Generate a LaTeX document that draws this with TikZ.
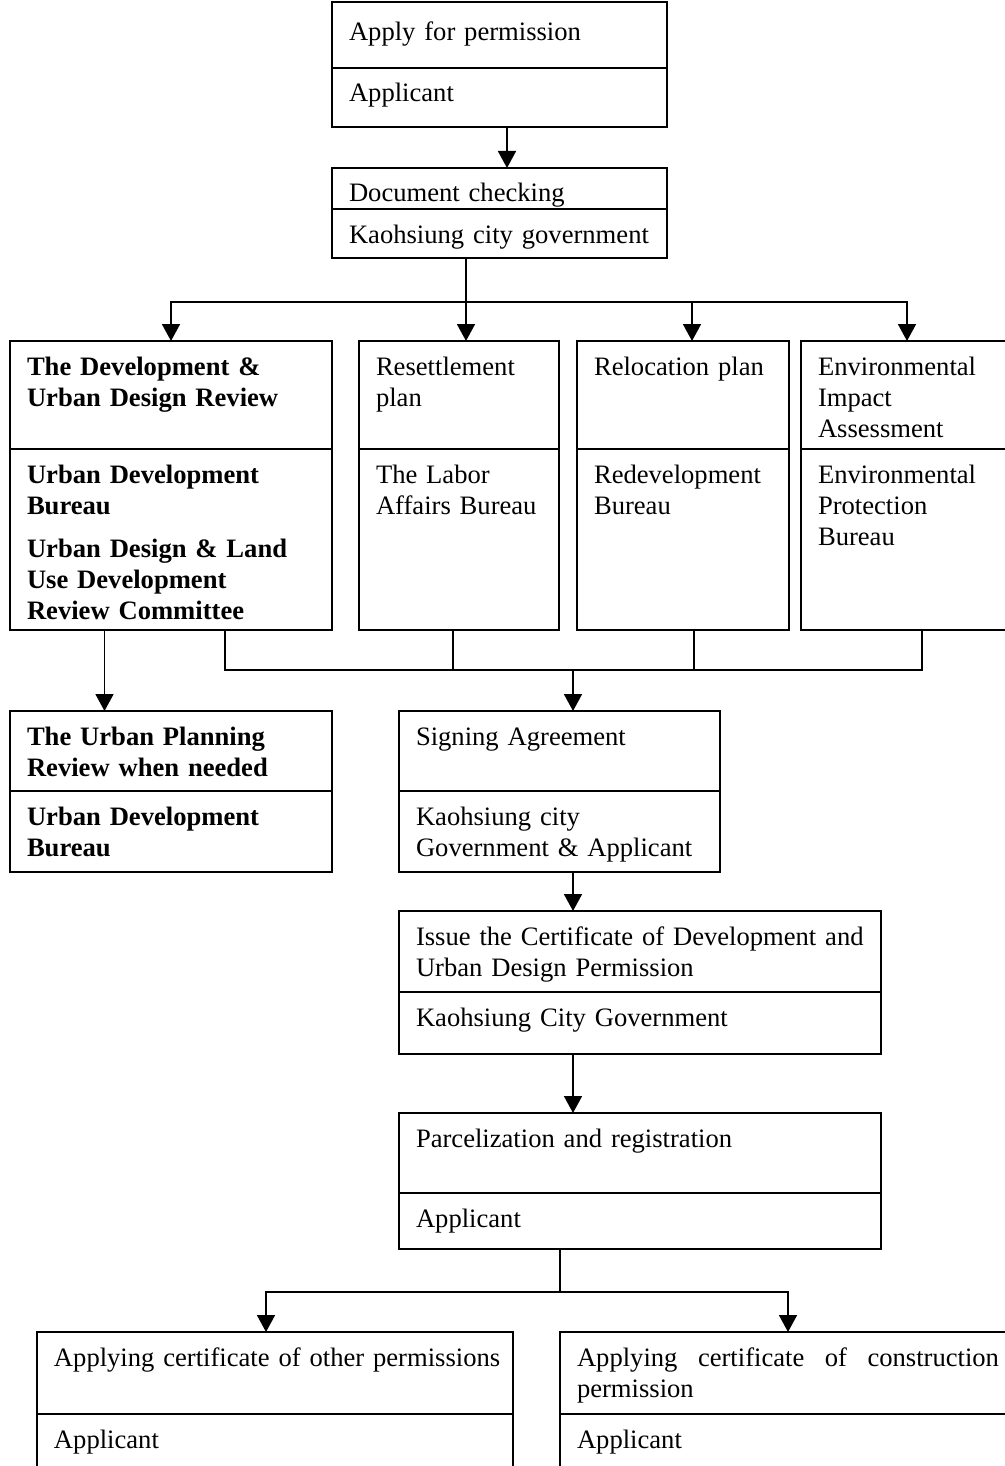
\documentclass[tikz,border=0pt]{standalone}
\usepackage{fontspec}
\setmainfont{Liberation Serif}
\usetikzlibrary{positioning,arrows.meta}
\hyphenpenalty=10000
\exhyphenpenalty=10000
\tikzset{
  part/.style 2 args={draw, line width=0.9pt, outer sep=0pt, inner xsep=8.5pt,
    inner ysep=0pt, text width=#1, text height=17pt, text depth=#2,
    align=left, anchor=north west, font=\fontsize{13.3}{15.5}\selectfont},
  bpart/.style 2 args={part={#1}{#2}, font=\fontsize{13.3}{15.5}\selectfont\bfseries},
  link/.style={line width=0.9pt},
  arr/.style={line width=0.9pt, -{Triangle[length=8.5pt,width=9pt]}},
}

\begin{document}
\begin{tikzpicture}
    \path[use as bounding box, clip] (0,0) rectangle (502.5pt,-733pt);

    \node[part={150.5pt}{13.5pt}, text height=19.5pt] (apply1) at (166pt,-1pt) {Apply for permission};
    \node[part={150.5pt}{12.5pt}] (apply2) at (apply1.south west) {Applicant};
    \node[part={150.5pt}{3.5pt}, below=20.5pt of apply2.south west, anchor=north west] (check1) {Document checking};
    \node[part={150.5pt}{7.5pt}] (check2) at (check1.south west) {Kaohsiung city government};

    \node[bpart={144pt}{37pt}] (devrev1) at (5pt,-170.5pt) {The Development \&\\Urban Design Review};
    \node[bpart={144pt}{73.5pt}] (devrev2) at (devrev1.south west) {Urban Development\\Bureau\\[6pt]Urban Design \& Land\\Use Development\\Review Committee};
    \node[part={83pt}{37pt}, right=13.5pt of devrev1.north east, anchor=north west] (resettle1) {Resettlement\\plan};
    \node[part={83pt}{73.5pt}] (resettle2) at (resettle1.south west) {The Labor\\Affairs Bureau};
    \node[part={89pt}{37pt}, right=9pt of resettle1.north east, anchor=north west] (reloc1) {Relocation plan};
    \node[part={89pt}{73.5pt}] (reloc2) at (reloc1.south west) {Redevelopment\\Bureau};
    \node[part={89pt}{37pt}, right=6pt of reloc1.north east, anchor=north west] (eia1) {Environmental\\Impact\\Assessment};
    \node[part={89pt}{73.5pt}] (eia2) at (eia1.south west) {Environmental\\Protection\\Bureau};

    \node[bpart={144pt}{23pt}, below=40.5pt of devrev2.south west, anchor=north west] (plan1) {The Urban Planning\\Review when needed};
    \node[bpart={144pt}{23.5pt}] (plan2) at (plan1.south west) {Urban Development\\Bureau};
    \node[part={143.5pt}{23pt}, right=33.5pt of plan1.north east, anchor=north west] (sign1) {Signing Agreement};
    \node[part={143.5pt}{23.5pt}] (sign2) at (sign1.south west) {Kaohsiung city\\Government \& Applicant};
    \node[part={224pt}{23.5pt}, below=19.5pt of sign2.south west, anchor=north west] (issue1) {Issue the Certificate of Development and\\Urban Design Permission};
    \node[part={224pt}{14pt}] (issue2) at (issue1.south west) {Kaohsiung City Government};
    \node[part={224pt}{23pt}, below=29.5pt of issue2.south west, anchor=north west] (parcel1) {Parcelization and registration};
    \node[part={224pt}{11pt}] (parcel2) at (parcel1.south west) {Applicant};

    \node[part={221pt}{24pt}] (other1) at (18.5pt,-666pt) {\mbox{Applying certificate of other permissions}};
    \node[part={221pt}{16pt}] (other2) at (other1.south west) {Applicant};
    \node[part={211pt}{24pt}, align=justify, right=23.5pt of other1.north east, anchor=north west] (constr1) {Applying certificate of construction permission};
    \node[part={211pt}{16pt}] (constr2) at (constr1.south west) {Applicant};

    \coordinate[above=19.5pt of resettle1.north, xshift=3.5pt] (fork);
    \coordinate[above=20.5pt of sign1.north, xshift=6.75pt] (join);
    \coordinate[above=20pt of constr1.north west] (split);

    % Connect the nodes
    \draw[arr] ([xshift=3.75pt]apply2.south) -- ([xshift=3.75pt]check1.north) ; %
    \draw[link] (check2.south -| fork) -- (fork) ; %
    \draw[arr] (fork) -| (devrev1.north) ; %
    \draw[arr] (fork) -- (fork |- resettle1.north) ; %
    \draw[arr] (fork) -| ([xshift=4.5pt]reloc1.north) ; %
    \draw[arr] (fork) -| (eia1.north) ; %
    \draw[link] ([xshift=27pt]devrev2.south) |- (join) ; %
    \draw[link] ([xshift=-3pt]resettle2.south) |- (join) ; %
    \draw[link] ([xshift=5.5pt]reloc2.south) |- (join) ; %
    \draw[link] ([xshift=7.5pt]eia2.south) |- (join) ; %
    \draw[arr] ([xshift=-33.25pt]devrev2.south) -- ([xshift=-33.25pt]plan1.north) ; %
    \draw[arr] (join) -- (join |- sign1.north) ; %
    \draw[arr] (join |- sign2.south) -- (join |- issue1.north) ; %
    \draw[arr] (join |- issue2.south) -- (join |- parcel1.north) ; %
    \draw[link] (parcel2.south -| split) -- (split) ; %
    \draw[arr] (split) -| ([xshift=-4.5pt]other1.north) ; %
    \draw[arr] (split) -| (constr1.north) ; %
\end{tikzpicture}
\end{document}
